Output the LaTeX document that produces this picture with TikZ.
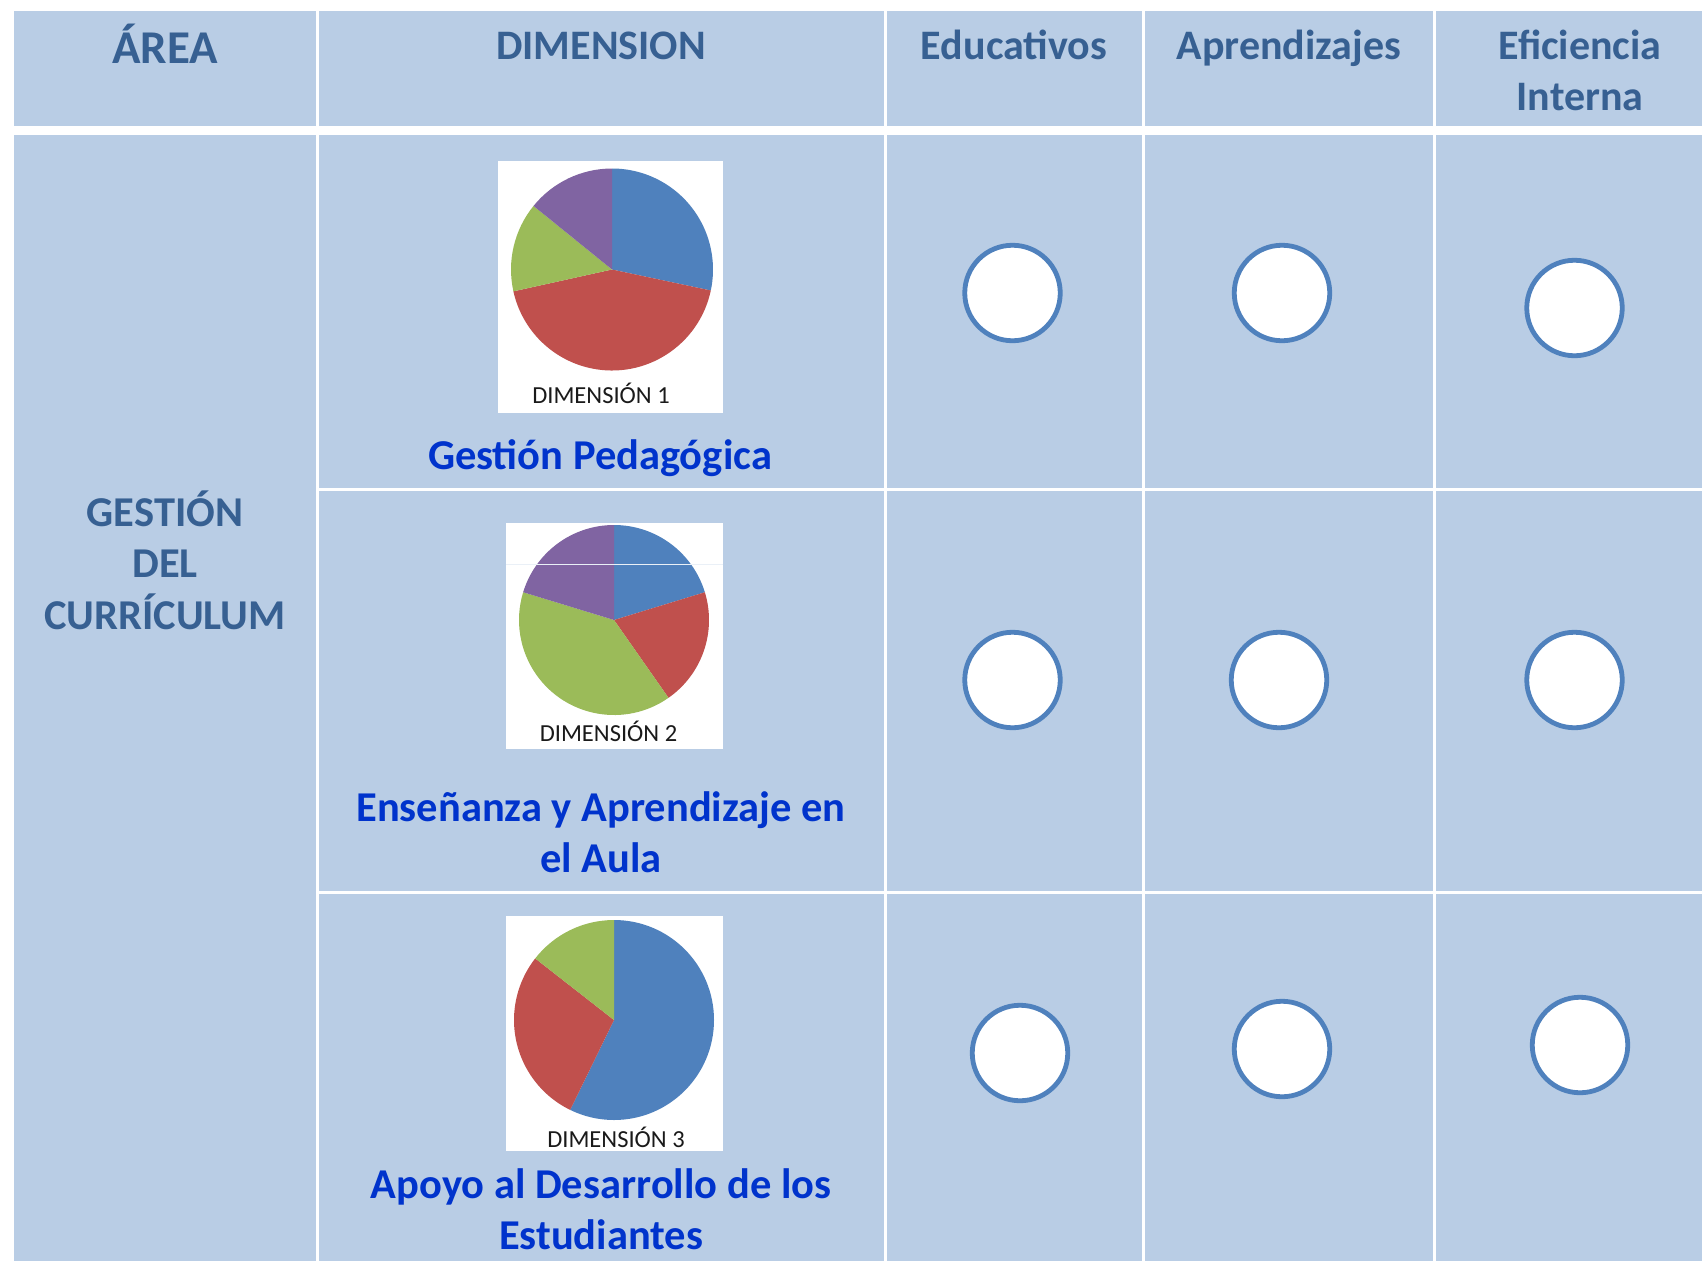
\documentclass[tikz,border=0pt]{standalone}
\usepackage{fontspec}
\setmainfont{Carlito}
\definecolor{cellfill}{HTML}{B9CDE5}
\definecolor{hdrtext}{HTML}{376092}
\definecolor{titleblue}{HTML}{0033CC}
\definecolor{pieblue}{HTML}{4F81BD}
\definecolor{piered}{HTML}{C0504D}
\definecolor{piegreen}{HTML}{9BBB59}
\definecolor{piepurple}{HTML}{8064A2}
\definecolor{ringblue}{HTML}{4F81BD}
\definecolor{labeltext}{HTML}{1A1A1A}
\newcommand\pieslice[5]{\fill[#5] (#1) -- ++(#2:#4) arc[start angle=#2,end angle=#3,radius=#4] -- cycle;}
\begin{document}
\begin{tikzpicture}[x=1pt,y=-1pt,
  hdr/.style={anchor=base, text=hdrtext, inner sep=0pt, align=center, font=\bfseries\fontsize{42}{51}\selectfont},
  area/.style={anchor=base, text=hdrtext, inner sep=0pt, align=center, font=\bfseries\fontsize{42.5}{51.5}\selectfont},
  dimtitle/.style={anchor=base, text=titleblue, inner sep=0pt, align=center, font=\bfseries\fontsize{42.5}{51}\selectfont},
  chartlabel/.style={anchor=base, text=labeltext, inner sep=0pt, font=\fontsize{24.5}{28}\selectfont},
  ring/.style={circle, draw=ringblue, fill=white, line width=4.8pt, minimum size=95.5pt, inner sep=0pt},
  chartbox/.style={fill=white}]
\useasboundingbox (0,0) rectangle (1702,1261);
\fill[white] (0,0) rectangle (1702,1261);
% header cells
\foreach \xa/\xb in {14/316,319/884,887/1142,1145/1433,1436/1702}
  {\fill[cellfill] (\xa,11) rectangle (\xb,126);}
% area cell
\fill[cellfill] (14,135) rectangle (316,1261);
% body cells
\foreach \xa/\xb in {319/884,887/1142,1145/1433,1436/1702}
  \foreach \ya/\yb in {135/488,491/891,894/1261}
    {\fill[cellfill] (\xa,\ya) rectangle (\xb,\yb);}
% header texts (multi-line nodes are anchored at their last baseline)
\node[hdr, font=\bfseries\fontsize{47}{51}\selectfont] (harea) at (165,63) {ÁREA};
\node[hdr] (hdim) at (601,59) {DIMENSION};
\node[hdr] (hedu) at (1014,59) {Educativos};
\node[hdr] (hapr) at (1289,59) {Aprendizajes};
\node[hdr] (hefi) at (1580,110) {Eficiencia\\Interna};
% area text
\node[area] (garea) at (165,629) {GESTIÓN\\DEL\\CURRÍCULUM};
% chart 1
\fill[chartbox] (498,161) rectangle (723,413);
\coordinate (pA) at (612,269.5);
\pieslice{pA}{-90}{12}{101}{pieblue}
\pieslice{pA}{12}{167.5}{101}{piered}
\pieslice{pA}{167.5}{219}{101}{piegreen}
\pieslice{pA}{219}{270}{101}{piepurple}
\node[chartlabel] (labA) at (601,403) {DIMENSIÓN 1};
\node[dimtitle] (tA) at (600,469) {Gestión Pedagógica};
% chart 2
\fill[chartbox] (506,523) rectangle (723,749);
\coordinate (pB) at (614,620);
\pieslice{pB}{-90}{-17}{95}{pieblue}
\pieslice{pB}{-17}{55}{95}{piered}
\pieslice{pB}{55}{197}{95}{piegreen}
\pieslice{pB}{197}{270}{95}{piepurple}
\draw[line width=0.8pt, color=white!70!cellfill] (506,564) -- (723,564);
\node[chartlabel] (labB) at (608.5,741) {DIMENSIÓN 2};
\node[dimtitle] (tB) at (601,872) {Enseñanza y Aprendizaje en\\el Aula};
% chart 3
\fill[chartbox] (506,916) rectangle (723,1151);
\coordinate (pC) at (614,1020);
\pieslice{pC}{-90}{116}{100}{pieblue}
\pieslice{pC}{116}{218}{100}{piered}
\pieslice{pC}{218}{270}{100}{piegreen}
\node[chartlabel] (labC) at (616,1147) {DIMENSIÓN 3};
\node[dimtitle] (tC) at (601,1249) {Apoyo al Desarrollo de los\\Estudiantes};
% rings
\node[ring] (r11) at (1012.5,293) {};
\node[ring] (r12) at (1282,293) {};
\node[ring] (r13) at (1574.5,308) {};
\node[ring] (r21) at (1012.5,680) {};
\node[ring] (r22) at (1279,680) {};
\node[ring] (r23) at (1574.5,680) {};
\node[ring] (r31) at (1020,1053) {};
\node[ring] (r32) at (1282,1049) {};
\node[ring] (r33) at (1580,1045) {};
\end{tikzpicture}
\end{document}
